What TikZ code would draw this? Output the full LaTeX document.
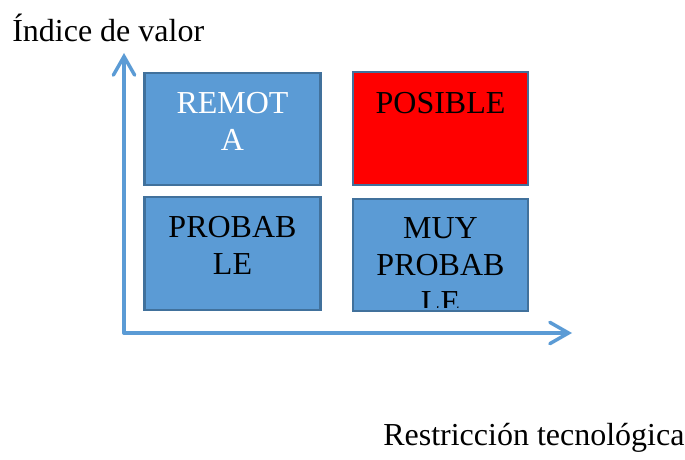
\documentclass[tikz,border=0pt]{standalone}
\usepackage{fontspec}
\setmainfont{Liberation Serif}
\usetikzlibrary{arrows.meta}
\definecolor{cellblue}{HTML}{5B9BD5}
\definecolor{cellline}{HTML}{41719C}
\definecolor{cellred}{HTML}{FF0000}

\begin{document}
\begin{tikzpicture}[x=0.75pt, y=-0.75pt,
      cell/.style ={rectangle, draw=cellline, line width=1.6pt, fill=cellblue,
                    minimum width=132pt, minimum height=84pt},
      celltext/.style ={anchor=north, inner sep=0pt, align=center,
                    font=\fontsize{24}{27.75}\selectfont},
      label/.style ={anchor=base west, inner sep=0pt,
                    font=\fontsize{24}{27.75}\selectfont},
      axis/.style ={draw=cellblue, line width=2.6pt, line cap=round,
                    -{Straight Barb[length=14pt, width=16pt, line cap=round]}}]

   \useasboundingbox (0,0) rectangle (685,460);

   % the four cells
   \node[cell] (remota)  at (232.5,129)  {};
   \node[cell, fill=cellred, minimum width=131pt, minimum height=84.5pt] (posible)  at (440.5,128.5)  {};
   \node[cell, minimum height=84.5pt] (probable)  at (232.5,253.5)  {};
   \node[cell, minimum width=131pt] (muyprobable)  at (440.5,255)  {};

   \node[celltext, text=white] (remotatext) at (232.5,92) {REMOT\\A};
   \node[celltext] (posibletext) at (440.5,92) {POSIBLE};
   \node[celltext] (probabletext) at (232.5,216) {PROBAB\\LE};
   \begin{scope}
     \clip (353,199) rectangle (528,307);
     \node[celltext] (muytext) at (440.5,217) {MUY\\PROBAB\\LE};
   \end{scope}

   % axes
   \coordinate (O) at (124,333);
   \coordinate (ytip) at (124,53);
   \coordinate (xtip) at (572,333);
   \draw[axis] (O) to (ytip);
   \draw[axis] (O) to (xtip);

   \node[label] (ylabel) at (12,42) {Índice de valor};
   \node[label] (xlabel) at (383,445) {Restricción tecnológica};

 \end{tikzpicture}
\end{document}
